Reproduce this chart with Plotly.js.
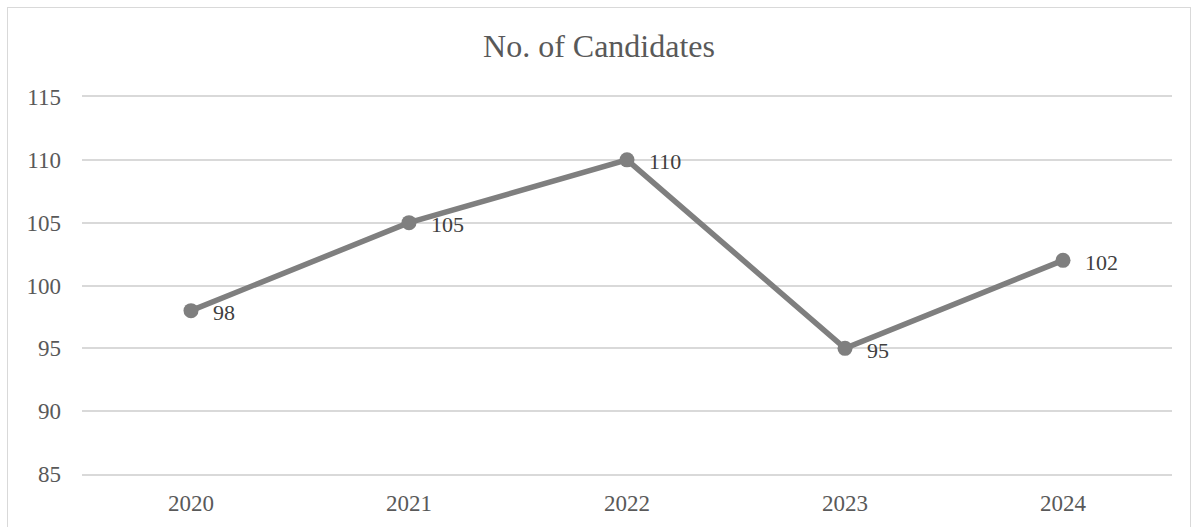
<!DOCTYPE html>
<html>
<head>
<meta charset="utf-8">
<script src="https://cdn.plot.ly/plotly-3.0.1.min.js"></script>
<style>
html,body{margin:0;padding:0;background:#fff;}
#wrap{position:relative;width:1198px;height:527px;overflow:hidden;}
#chart{position:absolute;left:0;top:0;width:1198px;height:527px;}
#frame{position:absolute;left:7px;top:7px;width:1182px;height:560px;border:1px solid #d9d9d9;pointer-events:none;}
</style>
</head>
<body>
<div id="wrap"><div id="chart"></div><div id="frame"></div></div>
<script>
const years = ['2020','2021','2022','2023','2024'];
const candidates = [98, 105, 110, 95, 102];
const yTicks = [85, 90, 95, 100, 105, 110, 115];

const font = 'Liberation Serif';
const gray = '#595959';

const trace = {
  x: years, y: candidates, type: 'scatter', mode: 'lines+markers',
  line: {color: '#7f7f7f', width: 5.5},
  marker: {color: '#7f7f7f', size: 15},
  hoverinfo: 'none', cliponaxis: false
};

const annotations = years.map((yr, i) => ({
  x: i, y: candidates[i], xref: 'x', yref: 'y',
  text: String(candidates[i]), showarrow: false,
  xanchor: 'left', yanchor: 'middle', xshift: 20, yshift: -2,
  font: {family: font, size: 22, color: '#404040'}
}));

const layout = {
  width: 1198, height: 527,
  margin: {l: 82, r: 26, t: 97, b: 53, pad: 0},
  paper_bgcolor: '#fff', plot_bgcolor: '#fff',
  showlegend: false,
  font: {family: font, color: gray},
  title: {text: 'No. of Candidates', x: 0.5, xanchor: 'center', y: 0.913, yanchor: 'middle',
          font: {family: font, size: 32, color: gray}},
  xaxis: {type: 'category', range: [-0.5, 4.5], showgrid: false, zeroline: false,
          showline: true, mirror: true, linecolor: '#d9d9d9', linewidth: 1.5,
          ticks: '', tickfont: {family: font, size: 23, color: gray}, ticklabelstandoff: 8},
  yaxis: {range: [85, 115], tickvals: yTicks, ticktext: yTicks.map(String), showgrid: true,
          gridcolor: '#d9d9d9', gridwidth: 1.5, zeroline: false, showline: false, ticks: '',
          tickfont: {family: font, size: 23, color: gray}, ticklabelstandoff: 20},
  annotations: annotations
};

Plotly.newPlot('chart', [trace], layout, {displayModeBar: false});
</script>
</body>
</html>
